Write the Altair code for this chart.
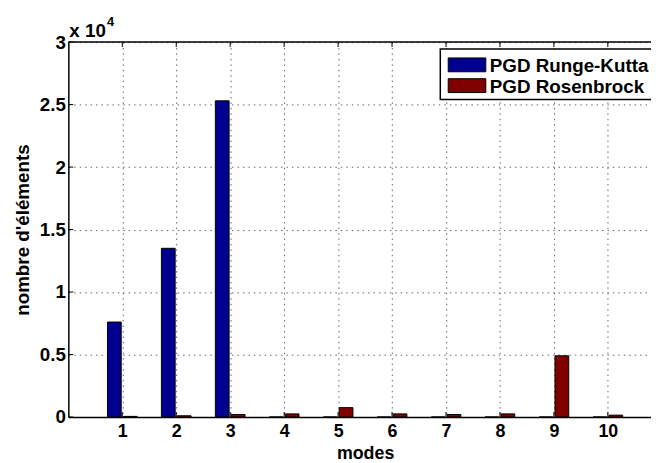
import altair as alt
import pandas as pd

# ---- data ----
modes = [1, 2, 3, 4, 5, 6, 7, 8, 9, 10]
runge_kutta = [7600, 13500, 25300, 0, 0, 0, 0, 0, 0, 0]
rosenbrock = [50, 100, 200, 250, 750, 250, 200, 250, 4900, 150]
series_names = ["PGD Runge-Kutta", "PGD Rosenbrock"]
series_colors = ["#00008F", "#800000"]
y_ticks = [0, 5000, 10000, 15000, 20000, 25000, 30000]

df = pd.DataFrame({
    "mode": modes * 2,
    "value": runge_kutta + rosenbrock,
    "series": [series_names[0]] * len(modes) + [series_names[1]] * len(modes),
    "k": [0] * len(modes) + [1] * len(modes),
})

W, H = 589, 379
FONT = "Liberation Sans"
FS = 19

xscale = alt.Scale(domain=[0, 10.8], nice=False, zero=False)
yscale = alt.Scale(domain=[0, 30000], nice=False, zero=True)
cscale = alt.Scale(domain=series_names, range=series_colors)

bars = alt.Chart(df).transform_calculate(
    x0="datum.mode + (datum.k == 0 ? -0.275 : 0.02)",
    x1="datum.mode + (datum.k == 0 ? -0.02 : 0.275)",
).mark_bar(stroke="black", strokeWidth=1, opacity=1).encode(
    x=alt.X("x0:Q", scale=xscale, axis=alt.Axis(
        values=modes, title="modes", grid=True, gridDash=[1.5, 4], gridColor="#666",
        ticks=False, domainColor="black", domainWidth=1.5,
        labelFont=FONT, labelFontWeight="bold", labelFontSize=18, labelColor="black",
        labelPadding=6, labelFlush=False,
        titleFont=FONT, titleFontWeight="bold", titleFontSize=18, titleColor="black",
        titleX=300, titleY=42, titleBaseline="alphabetic", titleAlign="center",
    )),
    x2="x1:Q",
    y=alt.Y("value:Q", scale=yscale, stack=None, axis=alt.Axis(
        values=y_ticks, labelExpr="'' + datum.value / 10000",
        title="nombre d'éléments", grid=True, gridDash=[1.5, 4], gridColor="#666",
        ticks=False, domainColor="black", domainWidth=1.5,
        labelFont=FONT, labelFontWeight="bold", labelFontSize=FS, labelColor="black",
        labelPadding=3, labelFlush=False,
        titleFont=FONT, titleFontWeight="bold", titleFontSize=FS, titleColor="black",
        titlePadding=7,
    )),
    y2=alt.datum(0),
    color=alt.Color("series:N", scale=cscale, legend=None),
)

tick_df = pd.DataFrame({"mode": modes})
xticks_bottom = alt.Chart(tick_df).mark_rule(color="black", strokeWidth=1).encode(
    x=alt.X("mode:Q", scale=xscale), y=alt.value(H), y2=alt.value(H - 5))
xticks_top = alt.Chart(tick_df).mark_rule(color="black", strokeWidth=1).encode(
    x=alt.X("mode:Q", scale=xscale), y=alt.value(0), y2=alt.value(5))
ytick_df = pd.DataFrame({"v": y_ticks})
yticks_left = alt.Chart(ytick_df).mark_rule(color="black", strokeWidth=1).encode(
    y=alt.Y("v:Q", scale=yscale), x=alt.value(0), x2=alt.value(5))

one = pd.DataFrame({"a": [0]})
top_border = alt.Chart(one).mark_rule(color="black", strokeWidth=1.5).encode(
    x=alt.value(0), x2=alt.value(W), y=alt.value(0))

exp_base = alt.Chart(one).mark_text(
    align="left", baseline="alphabetic", font=FONT, fontWeight="bold",
    fontSize=FS, color="black", text="x 10").encode(x=alt.value(1), y=alt.value(-5))
exp_pow = alt.Chart(one).mark_text(
    align="left", baseline="alphabetic", font=FONT, fontWeight="bold",
    fontSize=13, color="black", text="4").encode(x=alt.value(39), y=alt.value(-16))

# ---- legend drawn as a layer (box, swatches, labels) ----
legend_box = alt.Chart(one).mark_rect(
    fill="white", stroke="black", strokeWidth=1.5).encode(
    x=alt.value(376), x2=alt.value(W + 2), y=alt.value(7), y2=alt.value(58))
legend_layers = [legend_box]
for i, name in enumerate(series_names):
    ent = pd.DataFrame({"series": [name]})
    cy = 23 + 21 * i
    legend_layers.append(
        alt.Chart(ent).mark_rect(stroke="black", strokeWidth=1).encode(
            x=alt.value(384), x2=alt.value(422),
            y=alt.value(cy - 7), y2=alt.value(cy + 7),
            color=alt.Color("series:N", scale=cscale, legend=None)))
    legend_layers.append(
        alt.Chart(ent).mark_text(
            align="left", baseline="middle", font=FONT, fontWeight="bold",
            fontSize=FS, color="black").encode(
            x=alt.value(426), y=alt.value(cy + 1), text="series:N"))

chart = alt.layer(
    bars, xticks_bottom, xticks_top, yticks_left, top_border, exp_base, exp_pow,
    *legend_layers
).properties(
    width=W, height=H,
    autosize=alt.AutoSizeParams(type="none"),
    padding={"left": 61, "top": 32, "right": 0, "bottom": 43},
).configure_view(stroke=None)

chart.save("out.html", embed_options={"renderer": "svg", "actions": False})
